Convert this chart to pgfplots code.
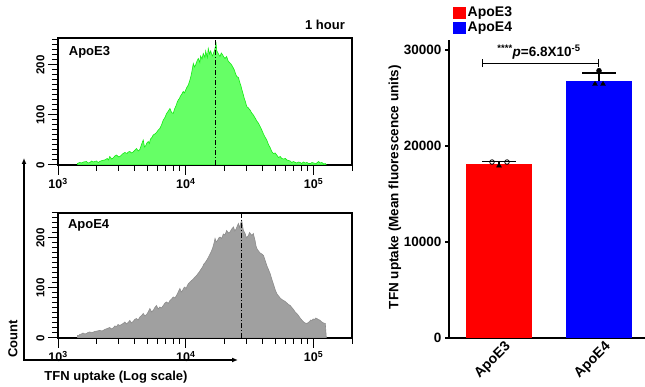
\documentclass[border=0pt]{standalone}
\usepackage{pgfplots}
\pgfplotsset{compat=1.18}
\usepackage{fontspec}
\setmainfont{Liberation Sans}
\usetikzlibrary{arrows.meta}
\definecolor{gfill}{RGB}{102,255,102}
\definecolor{gline}{RGB}{20,235,20}
\definecolor{grfill}{RGB}{160,160,160}
\definecolor{grline}{RGB}{140,140,140}
\pgfplotsset{
  histo/.style={
    scale only axis, width=294pt, anchor=south west,
    xmin=3, xmax=5.301, ymin=0,
    xtick={3,4,5},
    xticklabels={10\textsuperscript{3},10\textsuperscript{4},10\textsuperscript{5}},
    minor xtick={3.301,3.477,3.602,3.699,3.778,3.845,3.903,3.954,4.301,4.477,4.602,4.699,4.778,4.845,4.903,4.954,5.301},
    ytick={0,100,200},
    minor ytick={10,20,...,250},
    tick align=outside, tick pos=left,
    major tick length=10pt, minor tick length=6pt,
    every tick/.style={black, line width=1pt},
    axis line style={line width=1.2pt},
    xticklabel style={font=\fontsize{12.5}{14}\selectfont\bfseries},
    yticklabel style={font=\fontsize{11.5}{13}\selectfont\bfseries, rotate=90, anchor=south},
    /pgf/number format/assume math mode=true,
  }
}
\begin{document}
\begin{tikzpicture}
\useasboundingbox (0pt,0pt) rectangle (645pt,387pt);

% ---------- top histogram ApoE3 ----------
\begin{axis}[histo, at={(58pt,222pt)}, height=127pt, ymax=254]
\addplot[fill=gfill, draw=gline, line width=0.6pt] coordinates {
(3.152,0)(3.152,3)(3.170,5)(3.183,4)(3.200,6)(3.222,7)(3.236,4)(3.250,5)(3.262,8)(3.275,6)(3.300,8)(3.315,5)(3.327,7)(3.345,9)(3.366,10)(3.385,13)(3.395,10)(3.405,17)(3.420,12)(3.431,14)(3.445,18)(3.458,20)(3.475,16)(3.489,18)(3.505,22)(3.523,25)(3.540,23)(3.550,26)(3.562,27)(3.575,24)(3.588,26)(3.600,29)(3.614,33)(3.628,28)(3.641,31)(3.655,42)(3.667,50)(3.677,36)(3.685,38)(3.696,44)(3.706,47)(3.715,43)(3.724,52)(3.735,55)(3.745,60)(3.758,62)(3.771,65)(3.785,70)(3.797,73)(3.810,80)(3.824,90)(3.837,95)(3.850,103)(3.864,108)(3.876,113)(3.889,105)(3.902,103)(3.912,112)(3.923,118)(3.932,125)(3.941,130)(3.950,133)(3.959,138)(3.970,142)(3.980,147)(3.990,144)(3.999,150)(4.010,156)(4.020,160)(4.030,168)(4.038,175)(4.045,183)(4.050,190)(4.059,203)(4.068,196)(4.077,200)(4.088,208)(4.098,213)(4.110,205)(4.116,218)(4.127,212)(4.137,223)(4.150,215)(4.156,228)(4.163,220)(4.169,215)(4.176,233)(4.186,222)(4.195,228)(4.203,221)(4.210,218)(4.216,223)(4.226,230)(4.237,243)(4.243,228)(4.250,225)(4.258,221)(4.268,217)(4.278,224)(4.289,220)(4.298,216)(4.307,213)(4.320,217)(4.330,209)(4.341,205)(4.350,203)(4.359,200)(4.370,195)(4.380,190)(4.390,182)(4.399,177)(4.412,175)(4.425,163)(4.432,158)(4.440,150)(4.451,140)(4.458,133)(4.465,128)(4.477,117)(4.490,114)(4.503,110)(4.516,104)(4.529,100)(4.545,93)(4.556,88)(4.570,83)(4.582,77)(4.595,70)(4.608,62)(4.620,56)(4.634,50)(4.647,41)(4.660,35)(4.673,27)(4.686,23)(4.700,24)(4.712,20)(4.725,15)(4.739,17)(4.752,13)(4.765,12)(4.780,13)(4.791,10)(4.805,9)(4.817,8)(4.830,5)(4.843,7)(4.857,5)(4.870,4)(4.882,6)(4.895,5)(4.908,3)(4.920,6)(4.935,4)(4.948,5)(4.962,3)(4.975,3)(4.988,5)(5.000,4)(5.020,3)(5.030,5)(5.039,7)(5.052,4)(5.065,5)(5.080,2)(5.092,3)(5.100,0)
} \closedcycle;
\addplot[black, line width=1pt, dash pattern=on 5pt off 2pt on 1pt off 2pt] coordinates {(4.231,0) (4.231,254)};
\node[anchor=west, font=\fontsize{13}{15}\selectfont\bfseries] at (rel axis cs:0.025,0.89) {ApoE3};
\end{axis}

% ---------- bottom histogram ApoE4 ----------
\begin{axis}[histo, at={(58pt,49pt)}, height=125pt, ymax=250]
\addplot[fill=grfill, draw=grline, line width=0.6pt] coordinates {
(3.152,0)(3.152,5)(3.160,4)(3.170,7)(3.183,8)(3.196,10)(3.210,8)(3.222,9)(3.235,11)(3.248,12)(3.268,11)(3.288,13)(3.307,14)(3.327,15)(3.346,14)(3.366,17)(3.385,19)(3.405,21)(3.418,18)(3.431,20)(3.445,24)(3.458,23)(3.470,27)(3.484,25)(3.497,27)(3.510,29)(3.523,32)(3.536,28)(3.549,31)(3.562,35)(3.575,30)(3.588,33)(3.600,37)(3.614,39)(3.627,36)(3.641,42)(3.654,45)(3.667,49)(3.680,44)(3.693,47)(3.706,52)(3.719,59)(3.732,52)(3.745,55)(3.758,61)(3.771,65)(3.784,58)(3.797,62)(3.810,60)(3.824,65)(3.837,70)(3.850,72)(3.863,69)(3.876,75)(3.889,78)(3.902,82)(3.915,80)(3.928,85)(3.941,92)(3.954,99)(3.965,92)(3.975,95)(3.984,100)(3.993,102)(4.002,98)(4.012,105)(4.022,109)(4.033,112)(4.046,115)(4.059,118)(4.072,122)(4.085,125)(4.096,129)(4.106,132)(4.115,136)(4.124,139)(4.133,143)(4.142,148)(4.152,151)(4.163,155)(4.174,160)(4.184,165)(4.194,170)(4.203,175)(4.210,180)(4.216,185)(4.223,192)(4.229,199)(4.238,192)(4.248,195)(4.258,200)(4.268,202)(4.281,199)(4.294,208)(4.307,206)(4.320,215)(4.333,210)(4.346,212)(4.360,218)(4.373,222)(4.384,214)(4.394,218)(4.403,224)(4.412,229)(4.420,221)(4.425,225)(4.432,231)(4.438,235)(4.444,225)(4.451,215)(4.458,212)(4.464,209)(4.470,204)(4.477,200)(4.483,203)(4.490,205)(4.499,211)(4.508,208)(4.518,205)(4.529,209)(4.536,201)(4.542,195)(4.549,185)(4.556,179)(4.569,174)(4.582,170)(4.595,168)(4.608,165)(4.621,155)(4.634,145)(4.647,137)(4.660,129)(4.673,118)(4.686,108)(4.699,97)(4.712,89)(4.726,84)(4.739,80)(4.752,77)(4.765,75)(4.778,73)(4.791,70)(4.804,67)(4.817,65)(4.830,61)(4.843,57)(4.856,52)(4.869,49)(4.882,45)(4.895,40)(4.908,36)(4.922,32)(4.935,30)(4.948,29)(4.959,31)(4.969,33)(4.978,36)(4.987,35)(4.997,38)(5.008,37)(5.017,40)(5.026,39)(5.036,37)(5.047,36)(5.056,34)(5.065,32)(5.078,30)(5.092,29)(5.100,0)
} \closedcycle;
\addplot[black, line width=1pt, dash pattern=on 5pt off 2pt on 1pt off 2pt] coordinates {(4.435,0) (4.435,250)};
\node[anchor=west, font=\fontsize{13}{15}\selectfont\bfseries] at (rel axis cs:0.022,0.9) {ApoE4};
\end{axis}

% ---------- bar chart ----------
\begin{axis}[
  scale only axis, at={(449pt,49pt)}, anchor=south west,
  width=196pt, height=297.6pt,
  xmin=0, xmax=196, ymin=0, ymax=31000,
  axis lines=left, axis line style={-, line width=1.3pt},
  xtick={50,150}, xticklabels={ApoE3,ApoE4},
  major x tick style={draw=none},
  ytick={0,10000,20000,30000},
  tick align=outside, major tick length=4pt,
  every tick/.style={black, line width=1.2pt},
  scaled y ticks=false,
  /pgf/number format/1000 sep={},
  /pgf/number format/assume math mode=true,
  yticklabel style={font=\fontsize{13.5}{15}\selectfont\bfseries},
  xticklabel style={font=\fontsize{14}{16}\selectfont\bfseries, rotate=45, anchor=north east, xshift=6pt, yshift=-1pt, inner sep=1pt},
  ylabel={TFN uptake (Mean fluorescence units)},
  ylabel style={font=\fontsize{13.5}{15}\selectfont\bfseries, at={(axis description cs:-0.2755,0.507)}, anchor=center, rotate=0},
  clip=false,
  legend style={at={(axis description cs:0.0204,1.118)}, anchor=north west, draw=none, fill=none,
    font=\fontsize{14}{16}\selectfont\bfseries, row sep=1pt, inner sep=0pt,
    nodes={inner sep=1.5pt}},
  legend cell align=left,
]
\addplot[ybar, bar width=66pt, bar shift=0pt, fill=red, draw=none,
  legend image code/.code={\fill[red] (0pt,-6pt) rectangle (13pt,6pt);},
  error bars/.cd, y dir=plus, y explicit,
  error bar style={black, line width=1.2pt},
  error mark options={rotate=90, mark size=17pt, line width=1.2pt}]
  coordinates {(50,18150) +- (0,220)};
\addlegendentry{ApoE3}
\addplot[ybar, bar width=66pt, bar shift=0pt, fill=blue, draw=none,
  legend image code/.code={\fill[blue] (0pt,-6pt) rectangle (13pt,6pt);},
  error bars/.cd, y dir=plus, y explicit,
  error bar style={black, line width=1.2pt},
  error mark options={rotate=90, mark size=17pt, line width=1.2pt}]
  coordinates {(150,26750) +- (0,850)};
\addlegendentry{ApoE4}
\addplot[only marks, mark=o, mark size=2.3pt, black, line width=0.8pt, forget plot] coordinates {(43,18330) (58,18330)};
\addplot[only marks, mark=triangle*, mark size=2.8pt, black, forget plot] coordinates {(50,17950)};
\addplot[only marks, mark=*, mark size=2.5pt, black, forget plot] coordinates {(150,27840)};
\addplot[only marks, mark=triangle*, mark size=2.8pt, black, forget plot] coordinates {(146,26450) (154,26450)};
\addplot[black, line width=1.2pt, {|-|}, forget plot] coordinates {(33,28610) (150,28610)};
\node[font=\fontsize{13.5}{15}\selectfont\bfseries] at (axis cs:90,29750)
  {\textsuperscript{****}\textit{p}=6.8X10\textsuperscript{-5}};
\end{axis}

% ---------- annotations ----------
\node[font=\fontsize{13}{15}\selectfont\bfseries] at (325pt,362pt) {1 hour};
\draw[line width=1.2pt, {Latex[length=6pt,width=5pt]}-{Latex[length=6pt,width=5pt]}] (24pt,229pt) -- (24pt,27pt) -- (238pt,27pt);
\node[font=\fontsize{13}{15}\selectfont\bfseries, rotate=90] at (13pt,48pt) {Count};
\node[font=\fontsize{13}{15}\selectfont\bfseries] at (116pt,10pt) {TFN uptake (Log scale)};
\end{tikzpicture}
\end{document}
